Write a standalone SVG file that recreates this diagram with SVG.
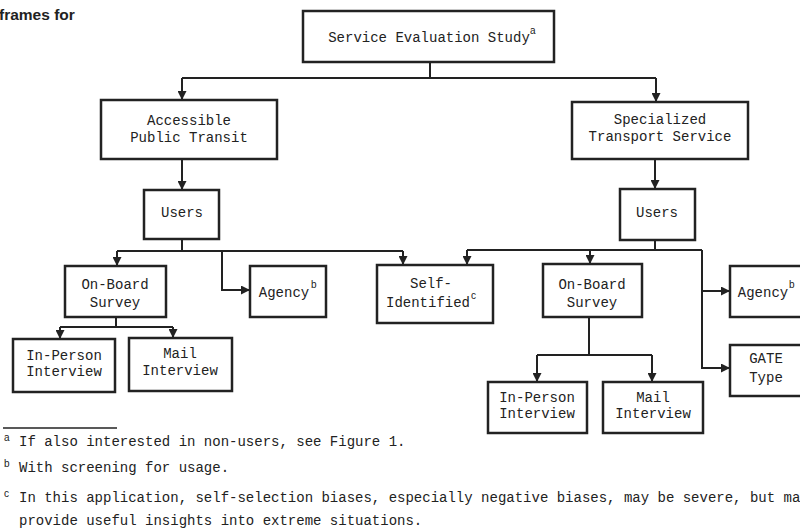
<svg xmlns="http://www.w3.org/2000/svg" width="800" height="529" viewBox="0 0 800 529">
<style>
.box{fill:#fff;stroke:#222;stroke-width:2.5}
.t{font-family:"Liberation Mono","DejaVu Sans Mono",monospace;font-size:14px;fill:#222;text-anchor:middle}
.s{font-family:"Liberation Sans",Arial,sans-serif;font-size:10px;fill:#222}
.fn{font-family:"Liberation Mono","DejaVu Sans Mono",monospace;font-size:14px;fill:#222}
.c{fill:none;stroke:#222;stroke-width:2}
</style>
<defs>
<marker id="ah" markerUnits="userSpaceOnUse" markerWidth="9" markerHeight="9" refX="9" refY="4.5" orient="auto" viewBox="0 0 9 9">
<path d="M0,0 L9,4.5 L0,9 z" fill="#222"/>
</marker>
</defs>
<rect width="800" height="529" fill="#fff"/>
<text x="-1" y="20" font-family="Liberation Sans,Arial,sans-serif" font-weight="bold" font-size="15.5" fill="#222">frames for</text>

<g id="connectors">
<path class="c" d="M430,62 V78 M182,78 H656"/>
<path class="c" d="M182,78 V100" marker-end="url(#ah)"/>
<path class="c" d="M656,78 V102" marker-end="url(#ah)"/>
<path class="c" d="M182,159 V190" marker-end="url(#ah)"/>
<path class="c" d="M655,159 V189" marker-end="url(#ah)"/>
<path class="c" d="M182,239 V251 M117,251 H403"/>
<path class="c" d="M117,251 V266" marker-end="url(#ah)"/>
<path class="c" d="M403,251 V265" marker-end="url(#ah)"/>
<path class="c" d="M222,251 V290 H250" marker-end="url(#ah)"/>
<path class="c" d="M655,240 V250 M467,250 H702"/>
<path class="c" d="M467,250 V265" marker-end="url(#ah)"/>
<path class="c" d="M590,250 V264" marker-end="url(#ah)"/>
<path class="c" d="M702,250 V368 H730" marker-end="url(#ah)"/>
<path class="c" d="M702,291 H730" marker-end="url(#ah)"/>
<path class="c" d="M116,317 V327 M60,327 H173"/>
<path class="c" d="M60,327 V339" marker-end="url(#ah)"/>
<path class="c" d="M173,327 V338" marker-end="url(#ah)"/>
<path class="c" d="M589,317 V355 M537,355 H652"/>
<path class="c" d="M537,355 V382" marker-end="url(#ah)"/>
<path class="c" d="M652,355 V382" marker-end="url(#ah)"/>
</g>

<g id="study">
<rect class="box" x="303" y="11" width="251" height="51"/>
<text class="t" x="429" y="42">Service Evaluation Study</text>
<text class="s" x="530" y="34">a</text>
</g>
<g id="apt">
<rect class="box" x="101" y="100" width="176" height="59"/>
<text class="t" x="189" y="125">Accessible</text>
<text class="t" x="189" y="142">Public Transit</text>
</g>
<g id="sts">
<rect class="box" x="572" y="102" width="176" height="57"/>
<text class="t" x="660" y="124">Specialized</text>
<text class="t" x="660" y="141">Transport Service</text>
</g>
<g id="users-left">
<rect class="box" x="144" y="190" width="75" height="49"/>
<text class="t" x="182" y="217">Users</text>
</g>
<g id="users-right">
<rect class="box" x="620" y="189" width="75" height="51"/>
<text class="t" x="657" y="217">Users</text>
</g>
<g id="onboard-left">
<rect class="box" x="65" y="266" width="101" height="51"/>
<text class="t" x="115" y="289">On-Board</text>
<text class="t" x="115" y="307">Survey</text>
</g>
<g id="agency-left">
<rect class="box" x="250" y="266" width="76" height="51"/>
<text class="t" x="284" y="297">Agency</text>
<text class="s" x="311" y="288">b</text>
</g>
<g id="self-identified">
<rect class="box" x="377" y="265" width="116" height="58"/>
<text class="t" x="431" y="288">Self-</text>
<text class="t" x="428" y="307">Identified</text>
<text class="s" x="471" y="299">c</text>
</g>
<g id="onboard-right">
<rect class="box" x="543" y="264" width="99" height="53"/>
<text class="t" x="592" y="289">On-Board</text>
<text class="t" x="592" y="307">Survey</text>
</g>
<g id="agency-right">
<rect class="box" x="730" y="266" width="75" height="51"/>
<text class="t" x="763" y="297">Agency</text>
<text class="s" x="789" y="288">b</text>
</g>
<g id="gate">
<rect class="box" x="730" y="345" width="75" height="51"/>
<text class="t" x="766" y="363">GATE</text>
<text class="t" x="766" y="382">Type</text>
</g>
<g id="inperson-left">
<rect class="box" x="13" y="339" width="102" height="53"/>
<text class="t" x="64" y="360">In-Person</text>
<text class="t" x="64" y="376">Interview</text>
</g>
<g id="mail-left">
<rect class="box" x="129" y="338" width="103" height="53"/>
<text class="t" x="180" y="358">Mail</text>
<text class="t" x="180" y="375">Interview</text>
</g>
<g id="inperson-right">
<rect class="box" x="488" y="382" width="99" height="51"/>
<text class="t" x="537" y="402">In-Person</text>
<text class="t" x="537" y="418">Interview</text>
</g>
<g id="mail-right">
<rect class="box" x="603" y="382" width="100" height="51"/>
<text class="t" x="653" y="402">Mail</text>
<text class="t" x="653" y="418">Interview</text>
</g>

<g id="footnotes">
<line x1="3" y1="428" x2="117" y2="428" stroke="#222" stroke-width="1.5"/>
<text class="s" x="4" y="441">a</text>
<text class="fn" x="19" y="446">If also interested in non-users, see Figure 1.</text>
<text class="s" x="4" y="467">b</text>
<text class="fn" x="19" y="472">With screening for usage.</text>
<text class="s" x="4" y="497">c</text>
<text class="fn" x="19" y="502">In this application, self-selection biases, especially negative biases, may be severe, but ma</text>
<text class="fn" x="19" y="525">provide useful insights into extreme situations.</text>
</g>
</svg>
